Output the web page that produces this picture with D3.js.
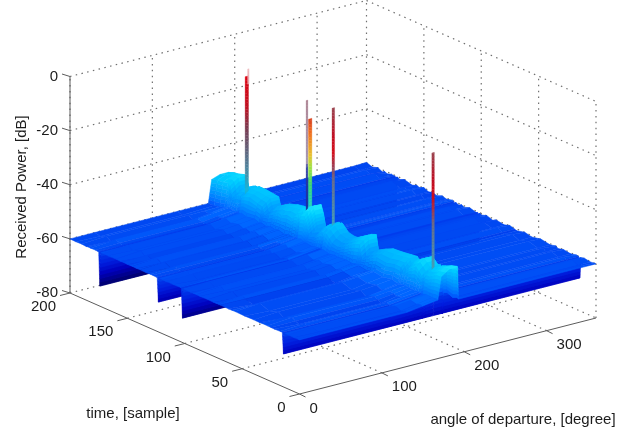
<!DOCTYPE html>
<head>
<meta charset="utf-8">
<style>
html, body { margin: 0; background: #fff; }
svg { display: block; filter: blur(0.4px); }
text { font-family: "Liberation Sans", Arial, sans-serif; font-size: 15px; fill: #1c1c1c; }
.grid { fill: none; stroke: #707070; stroke-width: 1.2; stroke-dasharray: 1.5 4.4; }
.axis { fill: none; stroke: #5c5c5c; stroke-width: 1; }
</style>
</head>
<body>
<svg width="644" height="432"></svg>
<script src="https://d3js.org/d3.v7.min.js"></script>
<script>

var angleTicks = [0, 100, 200, 300];
var sampleTicks = [0, 50, 100, 150, 200];
var powerTicks = [0, -20, -40, -60, -80];

// angle columns of the surface
var angles = [0, 30, 130, 168, 172, 182, 192, 193, 345, 360];

// time rows, back to front
var samples = [
  200,195,190,186,184,182,178,176,175,174,
  173,171,167,160,156,154,150,146,142,139,
  134,130,128,125,124,123,122,119,117,115,
  110,104,103,102,101,100,95,90,87,80,
  75,71,69,62,56,48,40,35,33,28,
  22,17,15,14,13,10,5,1,0];

var edgeLeft = [
  -60,-60.1,-60,-60.2,-60,-60.1,-60,-60.1,-60,-72.6,
  -60,-60,-60.1,-60,-60.1,-60,-60.1,-60,-60.1,-60,
  -60.1,-60,-60,-60.1,-60,-69,-60,-60,-60.1,-60,
  -60.1,-60,-60,-71,-60,-60,-60.1,-60,-60.1,-60,
  -60.1,-60,-60,-60.1,-60,-60.1,-60,-60.1,-60,-60,
  -60.1,-60,-60,-67.8,-60,-60,-60.1,-60,-60];

var floorLeft = [
  -60,-60.4,-59.5,-60.6,-60,-59.3,-59.8,-60.4,-60,-72.6,
  -60,-59.4,-60.5,-59.3,-60.6,-59.8,-60.7,-59.3,-60.4,-59.5,
  -60.7,-59.4,-60,-60.3,-60,-69,-60,-59.3,-60.6,-59.5,
  -60.7,-59.4,-60,-71,-60,-59.5,-60.7,-59.3,-60.4,-59.4,
  -60.8,-59.3,-60.1,-60.8,-59.3,-60.6,-59.4,-60.8,-60,-59.3,
  -60.7,-59.5,-60,-67.8,-60,-59.5,-60.4,-59.7,-60];

var shoulder = [
  -60,-59.8,-59.4,-58.8,-58.4,-58.2,-58.4,-58.5,-58.5,-72.6,
  -58.6,-58.2,-58.8,-58.2,-58.8,-58.6,-59,-58.4,-58.8,-58.4,
  -59,-58.4,-58.6,-58.6,-58.4,-69,-58.4,-58,-58.6,-58.8,
  -59,-58.4,-58.6,-71,-58.6,-58.4,-59,-58.6,-58.8,-58.4,
  -58.8,-58.2,-58.6,-59,-58.4,-58.8,-58.2,-58.8,-58.6,-58.2,
  -58.6,-58.4,-58.6,-67.8,-58.6,-58.2,-58.4,-58.2,-58.4];

var ridgeLeft = [
  -51.5,-50.8,-50.6,-50.2,-51,-55,-53.5,-53,-53,-72.6,
  -53,-52.6,-52,-53,-53.4,-56.5,-55.5,-54.5,-53,-53.5,
  -52.4,-53,-52,-51.5,-50.5,-69,-50.4,-50,-53,-57,
  -56,-53,-53.2,-71,-53,-53,-55.5,-56,-55.5,-53.5,
  -52,-51.5,-57,-55,-53.5,-54,-53,-53.2,-55,-52.5,
  -50.5,-53,-52,-67.8,-52,-52,-50.5,-50.2,-50];

var ridgeTop = [
  -50.4,-49.6,-49.2,-48.6,-48.8,-52.5,-51.4,-51,-51,-72.6,
  -50.6,-50.6,-50.6,-51,-51.2,-54.5,-53,-52,-51.5,-51,
  -50.6,-50.4,-49.6,-49,-48.5,-69,-48,-47.2,-50,-54.6,
  -53.5,-51,-50.8,-71,-50.6,-50.8,-53,-53.5,-53.4,-51.5,
  -50,-49.3,-54.6,-53,-51.8,-51.5,-51,-50.7,-52,-50,
  -48.3,-50.4,-50,-67.8,-50,-49.5,-48.5,-48,-48];

var floorRight = [
  -60,-60.6,-59.6,-60.3,-60.7,-59.5,-60.5,-59.7,-60,-72.6,
  -60,-60.6,-59.5,-60.7,-59.6,-60.3,-59.4,-60.6,-59.8,-60.7,
  -59.5,-60.3,-60,-59.5,-60,-69,-60,-60.7,-59.5,-60.4,
  -59.4,-60.6,-60,-71,-60,-60.6,-59.5,-60.7,-59.7,-60.6,
  -59.4,-60.4,-60.7,-59.5,-60.6,-59.4,-60.4,-59.5,-60.6,-59.6,
  -60.4,-59.5,-60,-67.8,-60,-59.4,-60.3,-59.6,-60];

var edgeRight = [
  -59.8,-60.6,-59.9,-60.8,-60.2,-60.7,-60.1,-60.4,-60.2,-72.6,
  -60.2,-60.7,-60,-60.8,-60.1,-60.5,-59.8,-60.6,-60.1,-60.7,
  -59.9,-60.4,-60.1,-59.8,-60,-69,-60.1,-60.7,-60,-60.5,
  -59.8,-60.5,-60.2,-71,-60.2,-60.6,-59.9,-60.7,-60,-60.5,
  -59.8,-60.4,-60.6,-59.9,-60.5,-59.8,-60.4,-59.9,-60.5,-60,
  -60.4,-59.9,-60.1,-67.8,-60.1,-59.8,-60.2,-60,-60];

// the surface, one row per sample, one column per angle
var power = samples.map(function(s, i) {
  return [edgeLeft[i], floorLeft[i], floorLeft[i], shoulder[i], ridgeLeft[i], ridgeTop[i], ridgeTop[i],
          floorRight[i], floorRight[i], edgeRight[i]];
});

// narrow peaks standing on the ridge
var stemSample = [174, 174, 123, 123, 102, 14];
var stemFrom = [176.4, 179.4, 179.4, 182.2, 181.6, 180.2];
var stemTo = [180.5, 181.2, 181.5, 186.4, 184.7, 183.2];
var stemFoot = [-56, -12, -56, -56, -56, -68];
var stemPeak = [-9, -6.4, -8.5, -15.6, -7.6, -7.6];
var stemRamp = [0, 1, 2, 3, 4, 4];

var surfaceLevels = [-76, -72, -68, -64, -61, -60, -59, -58, -55, -50, -47];
var surfaceColors = ["#00005c", "#000074", "#0000bc", "#0020e0", "#0036e8", "#004cf4", "#0064ff", "#0074ff", "#0098ff", "#00ccff", "#22eeff"];

var ramps = [
  {levels: [-56, -50.5, -44, -28, -20, -9],
   colors: ["#0aa8e0", "#1ab4d4", "#4a8aa4", "#7a3a50", "#c01020", "#dc0414"]},
  {levels: [-12, -6.4],
   colors: ["#e8a0a8", "#eec0c4"]},
  {levels: [-56, -33, -32, -8.5],
   colors: ["#1828a0", "#2838a0", "#9c8cac", "#a87c8c"]},
  {levels: [-56, -47, -40, -33, -29, -21, -15.6],
   colors: ["#10d8e0", "#28d8b8", "#40dc70", "#a8e040", "#e8c030", "#f07020", "#d84020"]},
  {levels: [-68, -60, -52, -49, -34, -24, -18, -7.6],
   colors: ["#d4d4dc", "#c8d0dc", "#1ab4d4", "#4a9ab4", "#6c6c88", "#d40c18", "#c00c20", "#9a4450"]}
];

var svg = d3.select("svg");

var xPx = d3.scaleLinear().domain([0, 360]).range([0, 296.5]),
    xPy = d3.scaleLinear().domain([0, 360]).range([0, -76]),
    tPx = d3.scaleLinear().domain([0, 200]).range([0, -229.5]),
    tPy = d3.scaleLinear().domain([0, 200]).range([0, -101]),
    zPy = d3.scaleLinear().domain([-80, 0]).range([0, -216.5]);

var color = d3.scaleLinear().domain(surfaceLevels).range(surfaceColors).clamp(true);

function project(x, t, z) {
  return [299.5 + xPx(x) + tPx(t), 394 + xPy(x) + tPy(t) + zPy(z)];
}

function segment(a, b, cls) {
  svg.append("path").attr("class", cls).attr("d", d3.line()([a, b]));
}

powerTicks.forEach(function(z) {
  segment(project(0, 200, z), project(360, 200, z), "grid");
  segment(project(360, 200, z), project(360, 0, z), "grid");
});
angleTicks.concat([360]).forEach(function(x) {
  segment(project(x, 200, -80), project(x, 200, 0), "grid");
  if (x > 0 && x < 360) segment(project(x, 0, -80), project(x, 200, -80), "grid");
});
sampleTicks.forEach(function(t) {
  if (t < 200) segment(project(360, t, -80), project(360, t, 0), "grid");
  if (t > 0 && t < 200) segment(project(0, t, -80), project(360, t, -80), "grid");
});

// axes
segment(project(0, 200, 0), project(0, 200, -80), "axis");
segment(project(0, 200, -80), project(0, 0, -80), "axis");
segment(project(0, 0, -80), project(360, 0, -80), "axis");

powerTicks.forEach(function(z) {
  var p = project(0, 200, z);
  segment(p, [p[0] - 8, p[1] - 2.5], "axis");
  svg.append("text").attr("x", 58).attr("y", p[1] + 4).attr("text-anchor", "end").text(z);
});
sampleTicks.forEach(function(t) {
  var p = project(0, t, -80);
  segment(p, [p[0] - 10, p[1] + 2.5], "axis");
  svg.append("text").attr("x", p[0] - 14).attr("y", p[1] + 18).attr("text-anchor", "end").text(t);
});
angleTicks.forEach(function(x) {
  var p = project(x, 0, -80);
  segment(p, [p[0] + 6, p[1] + 3], "axis");
  svg.append("text").attr("x", p[0] + 10).attr("y", p[1] + 18.5).text(x);
});

svg.append("text").attr("transform", "translate(26,187) rotate(-90)")
    .attr("text-anchor", "middle").text("Received Power, [dB]");
svg.append("text").attr("x", 133).attr("y", 418).attr("text-anchor", "middle").text("time, [sample]");
svg.append("text").attr("x", 523).attr("y", 424).attr("text-anchor", "middle").text("angle of departure, [degree]");

// surface, painted back to front
var surface = svg.append("g");

function lerp(a, b, k) { return a + (b - a) * k; }

function drawCell(i, j) {
  var t0 = samples[i], t1 = samples[i + 1],
      x0 = angles[j], x1 = angles[j + 1],
      z00 = power[i][j], z01 = power[i][j + 1],
      z10 = power[i + 1][j], z11 = power[i + 1][j + 1];
  var nv = Math.min(16, Math.max(1, Math.ceil(Math.max(Math.abs(z10 - z00), Math.abs(z11 - z01)) / 1.4))),
      nu = Math.min(16, Math.max(1, Math.ceil(Math.max(Math.abs(z01 - z00), Math.abs(z11 - z10)) / 1.4)));
  function at(u, v) {
    var a = lerp(z00, z01, u), b = lerp(z10, z11, u);
    return {x: lerp(x0, x1, u), t: lerp(t0, t1, v), z: lerp(a, b, v)};
  }
  for (var v = 0; v < nv; v++) {
    for (var u = nu - 1; u >= 0; u--) {
      var c = [at(u / nu, v / nv), at((u + 1) / nu, v / nv), at((u + 1) / nu, (v + 1) / nv), at(u / nu, (v + 1) / nv)];
      var fill = color(d3.mean(c, function(d) { return d.z; }));
      surface.append("path")
          .attr("d", d3.line()(c.map(function(d) { return project(d.x, d.t, d.z); })) + "Z")
          .attr("fill", fill)
          .attr("stroke", fill)
          .attr("stroke-width", 0.5);
    }
  }
}

function drawStem(k) {
  var ramp = d3.scaleLinear().domain(ramps[stemRamp[k]].levels).range(ramps[stemRamp[k]].colors).clamp(true);
  var levels = d3.range(stemFoot[k], stemPeak[k], 1.2).concat([stemPeak[k]]);
  for (var n = 0; n < levels.length - 1; n++) {
    var a = levels[n], b = levels[n + 1], s = stemSample[k];
    var fill = ramp((a + b) / 2);
    surface.append("path")
        .attr("d", d3.line()([
          project(stemFrom[k], s, a), project(stemTo[k], s, a),
          project(stemTo[k], s, b), project(stemFrom[k], s, b)]) + "Z")
        .attr("fill", fill)
        .attr("stroke", fill)
        .attr("stroke-width", 0.3);
  }
}

for (var i = 0; i < samples.length - 1; i++) {
  for (var j = angles.length - 2; j >= 0; j--) drawCell(i, j);
  stemSample.forEach(function(s, k) {
    if (s === samples[i + 1]) drawStem(k);
  });
}

</script>
</body>
